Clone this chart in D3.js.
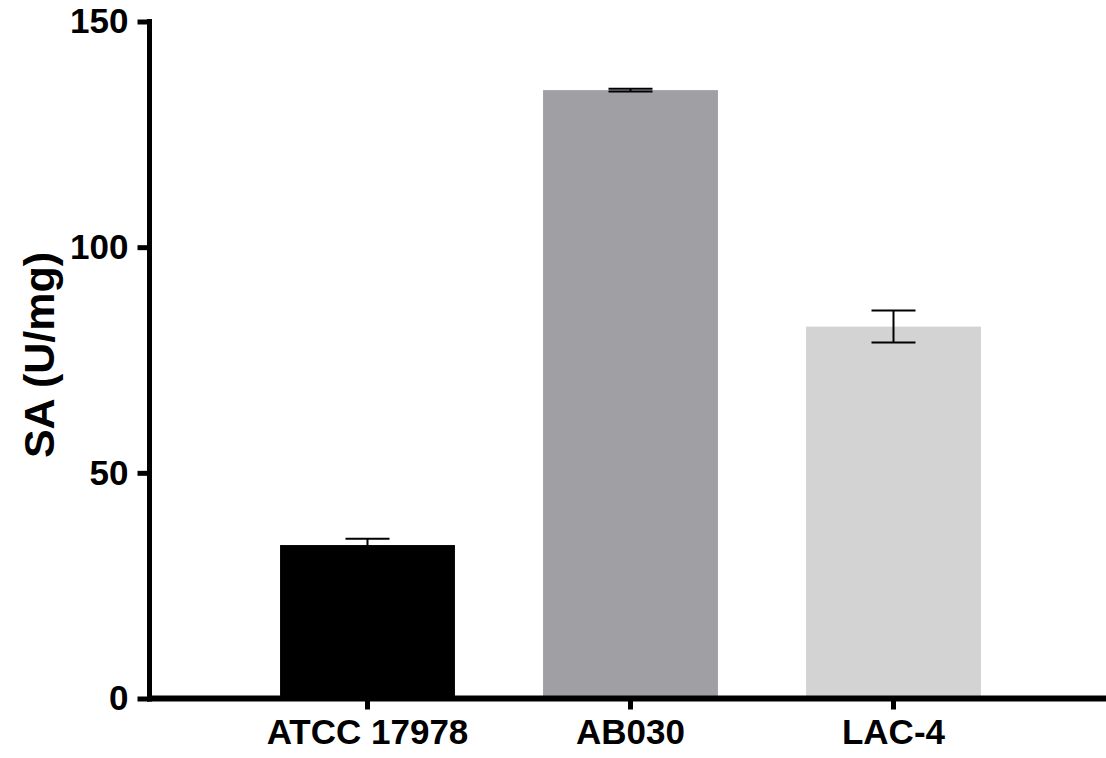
<!DOCTYPE html>
<html>
<head>
<meta charset="utf-8">
<script src="https://cdn.jsdelivr.net/npm/d3@7"></script>
<style>
  html, body { margin: 0; padding: 0; background: #fff; }
  svg { display: block; }
  text { font-family: "Liberation Sans", Arial, sans-serif; font-weight: bold; }
</style>
</head>
<body>
<svg id="chart" width="1106" height="758"></svg>
<script>
const categories = ["ATCC 17978", "AB030", "LAC-4"];
const values = [34.0, 134.8, 82.4];
const errors = [1.4, 0.3, 3.55];
const colors = ["#000000", "#A09FA4", "#D3D3D3"];
const yTicks = [0, 50, 100, 150];
const yLabel = "SA (U/mg)";

const svg = d3.select("#chart");
const y = d3.scaleLinear().domain([0, 150]).range([698.5, 21.5]);
const x = d3.scaleBand().domain(categories).range([236, 1025])
  .paddingInner(0.335).paddingOuter(0.1675);

const data = categories.map((c, i) => ({c, v: values[i], e: errors[i], col: colors[i]}));

// bars
svg.append("g").selectAll("rect").data(data).join("rect")
  .attr("x", d => x(d.c))
  .attr("width", x.bandwidth())
  .attr("y", d => y(d.v))
  .attr("height", d => y(0) - y(d.v))
  .attr("fill", d => d.col);

// error bars
const eg = svg.append("g").attr("stroke", "#000").attr("stroke-width", 2);
data.forEach(d => {
  const cx = x(d.c) + x.bandwidth() / 2;
  eg.append("line").attr("x1", cx).attr("x2", cx).attr("y1", y(d.v + d.e)).attr("y2", y(d.v - d.e));
  eg.append("line").attr("x1", cx - 22).attr("x2", cx + 22).attr("y1", y(d.v + d.e)).attr("y2", y(d.v + d.e));
  eg.append("line").attr("x1", cx - 22).attr("x2", cx + 22).attr("y1", y(d.v - d.e)).attr("y2", y(d.v - d.e));
});

// y axis
const yAxis = d3.axisLeft(y).tickValues(yTicks).tickSize(12).tickPadding(9).tickFormat(d3.format("d"));
const yg = svg.append("g").attr("transform", "translate(149.5,0)").call(yAxis);
yg.select(".domain").remove();
yg.selectAll(".tick line").attr("stroke", "#000").attr("stroke-width", 5);
yg.selectAll(".tick text").attr("fill", "#000").style("font-size", "35px")
  .style("font-family", '"Liberation Sans", Arial, sans-serif').style("font-weight", "bold");
svg.append("line").attr("x1", 149.5).attr("x2", 149.5).attr("y1", 19).attr("y2", 701.5)
  .attr("stroke", "#000").attr("stroke-width", 5);

// x axis
const xAxis = d3.axisBottom(x).tickSize(11).tickPadding(10);
const xg = svg.append("g").attr("transform", "translate(0,698.5)").call(xAxis);
xg.select(".domain").remove();
xg.selectAll(".tick line").attr("stroke", "#000").attr("stroke-width", 5);
xg.selectAll(".tick text").attr("fill", "#000").style("font-size", "35px")
  .style("font-family", '"Liberation Sans", Arial, sans-serif').style("font-weight", "bold");
svg.append("line").attr("x1", 147).attr("x2", 1106).attr("y1", 698.5).attr("y2", 698.5)
  .attr("stroke", "#000").attr("stroke-width", 6);

// y label
svg.append("text")
  .attr("transform", "translate(54,355) rotate(-90)")
  .attr("text-anchor", "middle")
  .style("font-size", "43px")
  .attr("fill", "#000")
  .text(yLabel);
</script>
</body>
</html>
